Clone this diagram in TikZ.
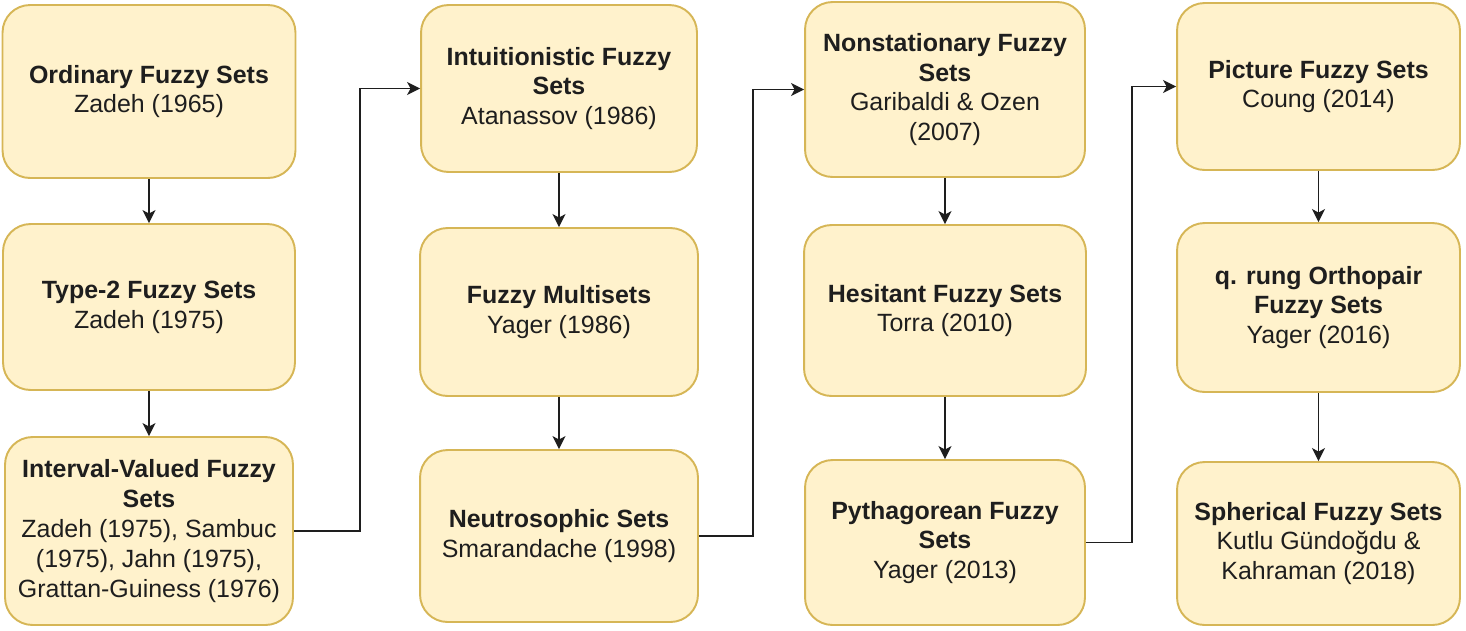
\documentclass[tikz,border=0pt]{standalone}
\usepackage{fontspec}
\setsansfont{Liberation Sans}
\usepackage{xcolor}
\usepackage{tikz}
\usetikzlibrary{arrows.meta,positioning}
\definecolor{fuzzyfill}{HTML}{FFF2CC}
\definecolor{fuzzyedge}{HTML}{D6B656}
\definecolor{ink}{HTML}{1E1E1E}
\tikzset{
  setbox/.style={
    rectangle, rounded corners=0.55cm, draw=fuzzyedge, fill=fuzzyfill,
    line width=1.1pt, minimum height=#1,
    font=\sffamily\fontsize{14.2}{17}\selectfont, text=ink,
    align=center, inner sep=0pt
  },
  setbox/.default=3.4cm,
  flow/.style={
    -{Stealth[length=0.26cm, width=0.26cm, inset=0.07cm]},
    line width=0.9pt, color=ink
  },
}

\begin{document}
\begin{tikzpicture}[x=0.02cm, y=-0.02cm]
  \useasboundingbox (0,0) rectangle (1466,630);

  % column 1
  \node[setbox=3.46cm, minimum width=5.86cm] (ofs) at (149,91.5)
    {\textbf{Ordinary Fuzzy Sets}\\Zadeh (1965)};
  \node[setbox=3.32cm, minimum width=5.84cm] (t2fs) at (149,307)
    {\textbf{Type-2 Fuzzy Sets}\\Zadeh (1975)};
  \node[setbox=3.76cm, minimum width=5.76cm] (ivfs) at (149,531)
    {\textbf{Interval-Valued Fuzzy}\\\textbf{Sets}\\Zadeh (1975), Sambuc\\(1975), Jahn (1975),\\Grattan-Guiness (1976)};

  % column 2
  \node[setbox=3.34cm, minimum width=5.52cm] (ifs) at (559,88.5)
    {\textbf{Intuitionistic Fuzzy}\\\textbf{Sets}\\Atanassov (1986)};
  \node[setbox=3.36cm, minimum width=5.56cm] (fms) at (559,312)
    {\textbf{Fuzzy Multisets}\\Yager (1986)};
  \node[setbox=3.44cm, minimum width=5.56cm] (neu) at (559,536)
    {\textbf{Neutrosophic Sets}\\Smarandache (1998)};

  % column 3
  \node[setbox=3.5cm, minimum width=5.6cm] (nsfs) at (945,89.5)
    {\textbf{Nonstationary Fuzzy}\\\textbf{Sets}\\Garibaldi \& Ozen\\(2007)};
  \node[setbox=3.42cm, minimum width=5.64cm] (hfs) at (945,310.5)
    {\textbf{Hesitant Fuzzy Sets}\\Torra (2010)};
  \node[setbox=3.3cm, minimum width=5.6cm] (pyfs) at (945,542.5)
    {\textbf{Pythagorean Fuzzy}\\\textbf{Sets}\\Yager (2013)};

  % column 4
  \node[setbox=3.34cm, minimum width=5.66cm] (picfs) at (1318.5,86.5)
    {\textbf{Picture Fuzzy Sets}\\Coung (2014)};
  \node[setbox=3.38cm, minimum width=5.66cm] (qrofs) at (1318.5,307.5)
    {\textbf{q. rung Orthopair}\\\textbf{Fuzzy Sets}\\Yager (2016)};
  \node[setbox=3.26cm, minimum width=5.66cm] (sfs) at (1318.5,543.5)
    {\textbf{Spherical Fuzzy Sets}\\Kutlu Gündoğdu \&\\Kahraman (2018)};

  % arrows down each column
  \draw[flow] (ofs.south) -- (t2fs.north);
  \draw[flow] (t2fs.south) -- (ivfs.north);
  \draw[flow] (ifs.south) -- (fms.north);
  \draw[flow] (fms.south) -- (neu.north);
  \draw[flow] (nsfs.south) -- (hfs.north);
  \draw[flow] (hfs.south) -- (pyfs.north);
  \draw[flow] (picfs.south) -- (qrofs.north);
  \draw[flow] (qrofs.south) -- (sfs.north);

  % jumps to the top of the next column
  \draw[flow] (ivfs.east) -- ++(66,0) |- (ifs.west);
  \draw[flow] (neu.east) -- ++(54,0) |- (nsfs.west);
  \draw[flow] (pyfs.east) -- ++(46,0) |- (picfs.west);
\end{tikzpicture}
\end{document}
